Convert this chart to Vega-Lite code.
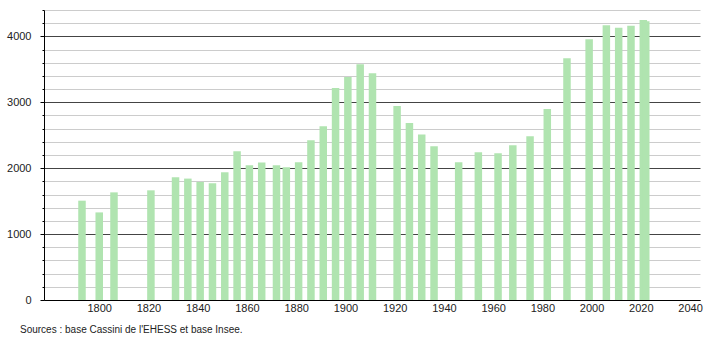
{
  "$schema": "https://vega.github.io/schema/vega-lite/v6.json",
  "width": 656,
  "height": 290,
  "autosize": {"type": "none"},
  "padding": {"left": 44, "top": 10, "right": 10, "bottom": 40},
  "background": "white",
  "config": {
    "view": {"stroke": null},
    "font": "Liberation Sans",
    "axis": {"labelFont": "Liberation Sans", "labelFontSize": 11, "labelColor": "#222"}
  },
  "title": {
    "text": "Sources : base Cassini de l'EHESS et base Insee.",
    "orient": "bottom",
    "anchor": "start",
    "frame": "group",
    "fontSize": 10,
    "fontWeight": "normal",
    "font": "Liberation Sans",
    "color": "#222",
    "dx": -24,
    "offset": 12
  },
  "data": {
    "values": [
      {"year": 1793, "population": 1507},
      {"year": 1800, "population": 1329},
      {"year": 1806, "population": 1633},
      {"year": 1821, "population": 1664},
      {"year": 1831, "population": 1862},
      {"year": 1836, "population": 1842},
      {"year": 1841, "population": 1791},
      {"year": 1846, "population": 1770},
      {"year": 1851, "population": 1938},
      {"year": 1856, "population": 2258},
      {"year": 1861, "population": 2045},
      {"year": 1866, "population": 2085},
      {"year": 1872, "population": 2045},
      {"year": 1876, "population": 2014},
      {"year": 1881, "population": 2090},
      {"year": 1886, "population": 2425},
      {"year": 1891, "population": 2638},
      {"year": 1896, "population": 3216},
      {"year": 1901, "population": 3384},
      {"year": 1906, "population": 3577},
      {"year": 1911, "population": 3440},
      {"year": 1921, "population": 2943},
      {"year": 1926, "population": 2684},
      {"year": 1931, "population": 2511},
      {"year": 1936, "population": 2334},
      {"year": 1946, "population": 2090},
      {"year": 1954, "population": 2242},
      {"year": 1962, "population": 2227},
      {"year": 1968, "population": 2349},
      {"year": 1975, "population": 2486},
      {"year": 1982, "population": 2897},
      {"year": 1990, "population": 3668},
      {"year": 1999, "population": 3957},
      {"year": 2006, "population": 4170},
      {"year": 2011, "population": 4130},
      {"year": 2016, "population": 4160},
      {"year": 2021, "population": 4250},
      {"year": 2022, "population": 4230}
    ]
  },
  "mark": {"type": "bar", "size": 7.5, "color": "#b0e4b0"},
  "encoding": {
    "x": {
      "field": "year",
      "type": "quantitative",
      "scale": {"domain": [1779.6, 2042], "nice": false, "zero": false},
      "axis": {
        "title": null,
        "values": [1800, 1820, 1840, 1860, 1880, 1900, 1920, 1940, 1960, 1980, 2000, 2020, 2040],
        "format": "d",
        "ticks": false,
        "grid": false,
        "domainColor": "#000",
        "labelPadding": 2
      }
    },
    "y": {
      "field": "population",
      "type": "quantitative",
      "scale": {"domain": [0, 4400], "nice": false},
      "axis": {
        "title": null,
        "values": [0, 200, 400, 600, 800, 1000, 1200, 1400, 1600, 1800, 2000, 2200, 2400, 2600, 2800, 3000, 3200, 3400, 3600, 3800, 4000, 4200, 4400],
        "labelExpr": "datum.value % 1000 === 0 ? datum.value : ''",
        "grid": true,
        "gridColor": {"condition": {"test": "datum.value % 1000 === 0", "value": "#444"}, "value": "#cccccc"},
        "gridWidth": 1,
        "tickColor": "#000",
        "tickSize": {"condition": {"test": "datum.value % 1000 === 0", "value": 4}, "value": 2},
        "domainColor": "#000",
        "labelPadding": 9,
        "labelOverlap": false
      }
    }
  }
}
